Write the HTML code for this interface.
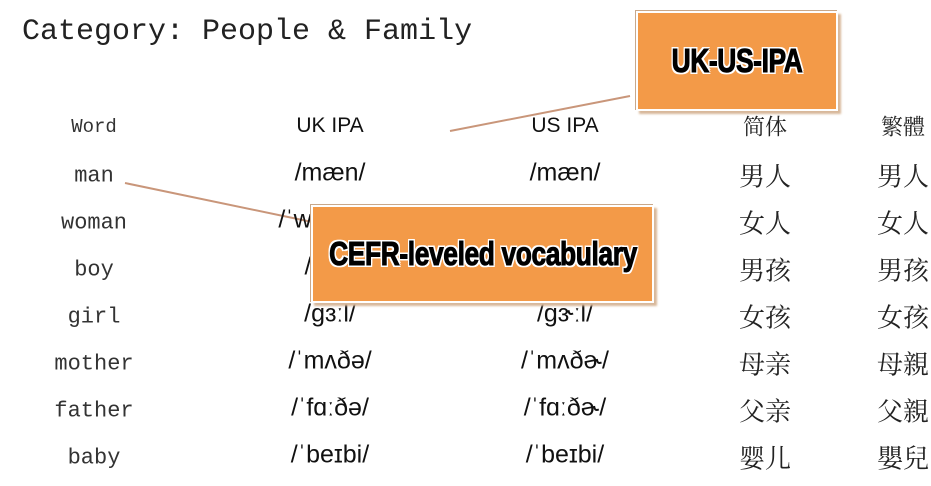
<!DOCTYPE html>
<html><head><meta charset="utf-8"><style>
body{margin:0;width:931px;height:486px;background:#fff;position:relative;overflow:hidden}
.t{position:absolute;white-space:nowrap;transform:translate(-50%,-50%)}
.w{font-family:"Liberation Mono","Noto Serif CJK SC",monospace;font-size:22px;color:#333}
.i{font-family:"Liberation Sans",sans-serif;font-size:25px;color:#111}
.c{font-family:"Liberation Serif","Noto Serif CJK SC",serif;font-size:26px;color:#222}
.h{font-family:"Liberation Sans","Noto Sans CJK SC",sans-serif;font-size:21px;color:#111}
.hc{font-family:"Noto Serif CJK SC",serif;font-size:22px;color:#222}
.box{position:absolute;background:#f39a48;border:2px solid #fff;box-shadow:3px 3px 2px #d8b89a,-1px -1px 0 #c9a88a}
.lab{position:absolute;left:50%;top:50%;transform:translate(-50%,-50%) scaleX(.8);font-family:"Liberation Sans Narrow","Liberation Sans",sans-serif;font-weight:bold;font-size:33px;color:#000;white-space:nowrap;-webkit-text-stroke:1px #000;text-shadow:2px 0 #fff,-2px 0 #fff,0 2px #fff,0 -2px #fff,2px 2px #fff,-2px -2px #fff,2px -2px #fff,-2px 2px #fff;letter-spacing:-0.5px}
</style></head><body>
<div style="position:absolute;left:22px;top:15px;font-family:'Liberation Mono',monospace;font-size:30px;color:#222;white-space:nowrap">Category: People &amp; Family</div>
<svg width="931" height="486" style="position:absolute;left:0;top:0">
<line x1="125" y1="183" x2="312" y2="222" stroke="#c9967a" stroke-width="2"/>
<line x1="450" y1="131" x2="630" y2="96" stroke="#c9967a" stroke-width="2"/>
</svg>
<div class="t w" style="left:94px;top:127px;font-size:19px">Word</div>
<div class="t h" style="left:330px;top:126px">UK IPA</div>
<div class="t h" style="left:565px;top:126px">US IPA</div>
<div class="t hc" style="left:765px;top:126px">简体</div>
<div class="t hc" style="left:903px;top:126px">繁體</div>

<div class="t w" style="left:94px;top:176px">man</div>
<div class="t w" style="left:94px;top:223px">woman</div>
<div class="t w" style="left:94px;top:270px">boy</div>
<div class="t w" style="left:94px;top:317px">girl</div>
<div class="t w" style="left:94px;top:364px">mother</div>
<div class="t w" style="left:94px;top:411px">father</div>
<div class="t w" style="left:94px;top:458px">baby</div>

<div class="t i" style="left:330px;top:173px">/mæn/</div>
<div class="t i" style="left:565px;top:173px">/mæn/</div>
<div class="t i" style="left:295px;top:220px">/ˈw</div>
<div class="t i" style="left:308px;top:267px">/</div>
<div class="t i" style="left:330px;top:314px">/gɜːl/</div>
<div class="t i" style="left:565px;top:314px">/gɝːl/</div>
<div class="t i" style="left:330px;top:361px">/ˈmʌðə/</div>
<div class="t i" style="left:565px;top:361px">/ˈmʌðɚ/</div>
<div class="t i" style="left:330px;top:408px">/ˈfɑːðə/</div>
<div class="t i" style="left:565px;top:408px">/ˈfɑːðɚ/</div>
<div class="t i" style="left:330px;top:455px">/ˈbeɪbi/</div>
<div class="t i" style="left:565px;top:455px">/ˈbeɪbi/</div>

<div class="t c" style="left:765px;top:175px">男人</div><div class="t c" style="left:903px;top:175px">男人</div>
<div class="t c" style="left:765px;top:222px">女人</div><div class="t c" style="left:903px;top:222px">女人</div>
<div class="t c" style="left:765px;top:269px">男孩</div><div class="t c" style="left:903px;top:269px">男孩</div>
<div class="t c" style="left:765px;top:316px">女孩</div><div class="t c" style="left:903px;top:316px">女孩</div>
<div class="t c" style="left:765px;top:363px">母亲</div><div class="t c" style="left:903px;top:363px">母親</div>
<div class="t c" style="left:765px;top:410px">父亲</div><div class="t c" style="left:903px;top:410px">父親</div>
<div class="t c" style="left:765px;top:457px">婴儿</div><div class="t c" style="left:903px;top:457px">嬰兒</div>

<div class="box" style="left:636px;top:11px;width:198px;height:96px"><div class="lab">UK-US-IPA</div></div>
<div class="box" style="left:311px;top:205px;width:339px;height:94px"><div class="lab">CEFR-leveled vocabulary</div></div>
</body></html>
